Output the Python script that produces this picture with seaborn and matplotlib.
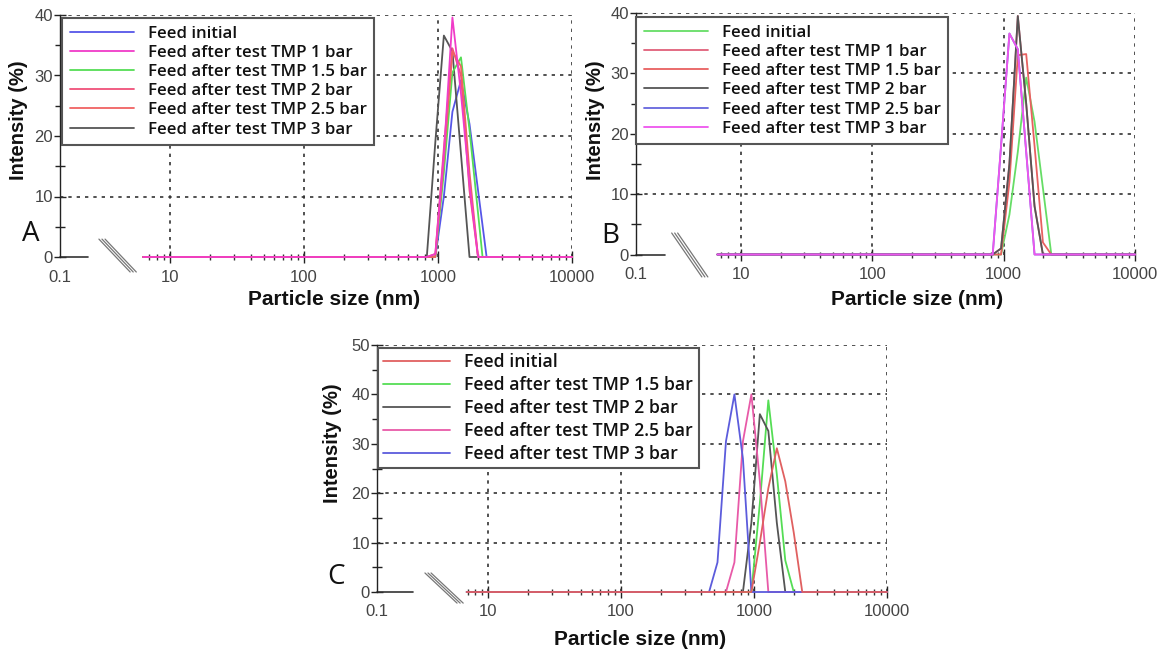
import matplotlib
matplotlib.use("Agg")
import matplotlib.pyplot as plt
import seaborn as sns
from matplotlib.ticker import FixedLocator, NullFormatter
from matplotlib.font_manager import FontProperties

# ---------------- data (particle size in nm, intensity in %) ----------------
LABELS_AB = ["Feed initial", "Feed after test TMP 1 bar", "Feed after test TMP 1.5 bar",
             "Feed after test TMP 2 bar", "Feed after test TMP 2.5 bar", "Feed after test TMP 3 bar"]
LABELS_C = ["Feed initial", "Feed after test TMP 1.5 bar", "Feed after test TMP 2 bar",
            "Feed after test TMP 2.5 bar", "Feed after test TMP 3 bar"]
X_TICKS = [10, 100, 1000, 10000]
X_TICK_LABELS = ["0.1", "10", "100", "1000", "10000"]

# Panel A
A_init_x = [6.3, 955, 1106, 1281, 1484, 1718, 1990, 2305, 10000]
A_init_y = [0, 0, 10, 24, 29.2, 22, 11, 0, 0]
A_tmp1_x = [6.3, 825, 955, 1106, 1281, 1484, 1718, 1990, 10000]
A_tmp1_y = [0, 0, 0.5, 17, 39.6, 27, 12, 0, 0]
A_tmp15_x = [6.3, 955, 1106, 1281, 1484, 1718, 2150, 10000]
A_tmp15_y = [0, 0, 14, 30.5, 33, 21, 0, 0]
A_tmp2_x = [6.3, 825, 955, 1106, 1281, 1484, 1718, 1990, 10000]
A_tmp2_y = [0, 0, 0.5, 18, 34.5, 30, 11, 0, 0]
A_tmp25_x = [6.3, 955, 1106, 1281, 1484, 1718, 1990, 10000]
A_tmp25_y = [0, 0, 16, 34, 31.5, 14, 0, 0]
A_tmp3_x = [6.3, 825, 955, 1106, 1281, 1484, 1718, 10000]
A_tmp3_y = [0, 0, 19, 36.6, 34, 17, 0, 0]

# Panel B
B_init_x = [6.6, 955, 1106, 1281, 1484, 1718, 1990, 2305, 10000]
B_init_y = [0, 0, 6.6, 17, 29.3, 22, 11, 0, 0]
B_tmp1_x = [6.6, 825, 955, 1106, 1281, 1484, 1718, 1990, 10000]
B_tmp1_y = [0, 0, 1, 15, 39.5, 25, 8, 0, 0]
B_tmp15_x = [6.6, 955, 1106, 1281, 1484, 1718, 1990, 2305, 10000]
B_tmp15_y = [0, 0, 12, 33, 33.2, 18, 2, 0, 0]
B_tmp2_x = [6.6, 825, 955, 1106, 1281, 1484, 1718, 1990, 10000]
B_tmp2_y = [0, 0, 1, 15, 39.5, 25, 8, 0, 0]
B_tmp25_x = [6.6, 825, 955, 1106, 1281, 1484, 1718, 10000]
B_tmp25_y = [0, 0, 18, 36.6, 34, 17, 0, 0]
B_tmp3_x = [6.6, 825, 955, 1106, 1281, 1484, 1718, 10000]
B_tmp3_y = [0, 0, 18, 36.6, 34, 17, 0, 0]

# Panel C
C_init_x = [6.9, 955, 1106, 1281, 1484, 1718, 1990, 2305, 10000]
C_init_y = [0, 0, 10, 21, 29.1, 22.4, 12, 0, 0]
C_tmp15_x = [6.9, 955, 1106, 1281, 1484, 1718, 1990, 10000]
C_tmp15_y = [0, 0, 18, 38.8, 23.8, 6.4, 0, 0]
C_tmp2_x = [6.9, 825, 955, 1106, 1281, 1484, 1718, 10000]
C_tmp2_y = [0, 0, 14, 36, 32.6, 14, 0, 0]
C_tmp25_x = [6.9, 615, 712, 825, 955, 1106, 1281, 10000]
C_tmp25_y = [0, 0, 6, 30.5, 40, 22.4, 0, 0]
C_tmp3_x = [6.9, 459, 531, 615, 712, 825, 955, 10000]
C_tmp3_y = [0, 0, 6, 30.5, 40, 27, 0, 0]

# ---------------- style ----------------
sns.set_theme(style="white")
plt.rcParams['font.family'] = ['Liberation Sans', 'DejaVu Sans']

W, H = 1167, 655
fig = plt.figure(figsize=(W / 100, H / 100), dpi=100)

GRID_KW = dict(color="#333333", linewidth=1.2, linestyle=(0, (2, 3)), zorder=1)


def px_rect(x0, x1, ytop, ybot):
    return [x0 / W, 1 - ybot / H, (x1 - x0) / W, (ybot - ytop) / H]


def panel(rect, series, ymax, left_lim, seg_frac, brk, leg_anchor, leg_size, leg_space,
          leg_pad, ylab_xy, xlab_xy, letter, letter_xy):
    ax = fig.add_axes(rect)
    ax.set_xscale("log")
    for lab, xs, ys, col, z in series:
        sns.lineplot(x=xs, y=ys, ax=ax, color=col, label=lab, linewidth=1.3,
                     estimator=None, sort=False, clip_on=False, zorder=z)
    ax.set_xlim(left_lim, 10000)
    ax.set_ylim(0, ymax)
    # grid
    for v in range(10, ymax + 1, 10):
        ax.axhline(v, **GRID_KW)
    for v in X_TICKS:
        ax.axvline(v, **GRID_KW)
    # spines
    for s in ["top", "right", "bottom"]:
        ax.spines[s].set_visible(False)
    ax.spines["left"].set_color("#222222")
    ax.spines["left"].set_linewidth(1.0)
    # x ticks
    ax.xaxis.set_major_locator(FixedLocator([left_lim] + X_TICKS))
    ax.set_xticklabels(X_TICK_LABELS)
    minors = [7, 8, 9] + [m * 10 ** d for d in (1, 2, 3) for m in range(2, 10)]
    ax.xaxis.set_minor_locator(FixedLocator(minors))
    ax.xaxis.set_minor_formatter(NullFormatter())
    ax.tick_params(axis="x", which="major", direction="inout", length=8, width=1,
                   color="#222222", labelcolor="#444444", labelsize=12, pad=5, bottom=True)
    ax.tick_params(axis="x", which="minor", direction="inout", length=5, width=1,
                   color="#333333", bottom=True)
    ax.xaxis.get_major_ticks()[0].tick1line.set_visible(False)
    # y ticks
    ax.yaxis.set_major_locator(FixedLocator(list(range(0, ymax + 1, 10))))
    ax.yaxis.set_minor_locator(FixedLocator(list(range(5, ymax, 10))))
    ax.tick_params(axis="y", which="major", direction="inout", length=8, width=1,
                   color="#222222", labelcolor="#444444", labelsize=12, pad=1, left=True)
    ax.tick_params(axis="y", which="minor", direction="inout", length=7, width=1,
                   color="#222222", left=True)
    # short axis stub + break marks
    ax.plot([0, seg_frac], [0, 0], transform=ax.transAxes, color="#333333",
            linewidth=1.2, clip_on=False, zorder=2)
    (bx0, by0), (bx1, by1), dx = brk
    for k in range(3):
        ax.plot([bx0 + k * dx, bx1 + k * dx], [by0, by1], transform=ax.transAxes,
                color="#777777", linewidth=0.9, clip_on=False)
    # labels
    ax.set_xlabel("Particle size (nm)", fontsize=15, fontweight="bold", color="#111111")
    ax.set_ylabel("Intensity (%)", fontsize=14.5, fontweight="bold", color="#111111")
    ax.xaxis.set_label_coords(*xlab_xy)
    ax.yaxis.set_label_coords(*ylab_xy)
    # legend
    leg = ax.legend(loc="upper left", bbox_to_anchor=leg_anchor, frameon=True,
                    fancybox=False, edgecolor="#555555", framealpha=1,
                    prop=FontProperties(family="Open Sans", weight="semibold", size=leg_size),
                    handlelength=3.8, handletextpad=0.8, labelspacing=leg_space,
                    borderpad=leg_pad, borderaxespad=0)
    leg.get_frame().set_linewidth(1.5)
    leg.set_zorder(10)
    for t in leg.get_texts():
        t.set_color("#111111")
    fig.text(letter_xy[0] / W, 1 - letter_xy[1] / H, letter, ha="center", va="center",
             fontsize=20, family="Open Sans", color="#111111")
    return ax


colors_A = ["#5656e8", "#f03cc8", "#55dd55", "#f0507a", "#f06262", "#555555"]
colors_B = ["#66dd66", "#e0607a", "#e86060", "#555555", "#6666dd", "#ee55ee"]
colors_C = ["#e06060", "#55dd55", "#555555", "#e85aa8", "#5c5cdc"]
zorder_A = [3, 3.6, 3.2, 3.3, 3.4, 3.1]
zorder_B = [3, 3.1, 3.2, 3.3, 3.4, 3.5]
zorder_C = [3.6, 3.1, 3.2, 3.3, 3.4]

series_A = list(zip(LABELS_AB,
                    [A_init_x, A_tmp1_x, A_tmp15_x, A_tmp2_x, A_tmp25_x, A_tmp3_x],
                    [A_init_y, A_tmp1_y, A_tmp15_y, A_tmp2_y, A_tmp25_y, A_tmp3_y],
                    colors_A, zorder_A))
series_B = list(zip(LABELS_AB,
                    [B_init_x, B_tmp1_x, B_tmp15_x, B_tmp2_x, B_tmp25_x, B_tmp3_x],
                    [B_init_y, B_tmp1_y, B_tmp15_y, B_tmp2_y, B_tmp25_y, B_tmp3_y],
                    colors_B, zorder_B))
series_C = list(zip(LABELS_C,
                    [C_init_x, C_tmp15_x, C_tmp2_x, C_tmp25_x, C_tmp3_x],
                    [C_init_y, C_tmp15_y, C_tmp2_y, C_tmp25_y, C_tmp3_y],
                    colors_C, zorder_C))

panel(px_rect(60, 572, 15, 257), series_A, 40, 1.51, 0.055,
      ((0.076, 0.074), (0.137, -0.062), 0.006), (0.004, 0.988), 12.2, 0.19, 0.45,
      (-0.0625, 0.566), (0.535, -0.136), "A", (31, 234))
panel(px_rect(636, 1135, 13, 254.5), series_B, 40, 1.585, 0.058,
      ((0.0715, 0.089), (0.132, -0.093), 0.006), (0.0, 0.983), 12.2, 0.19, 0.45,
      (-0.062, 0.557), (0.563, -0.147), "B", (610, 236))
panel(px_rect(377, 887, 345, 592), series_C, 50, 1.46, 0.07,
      ((0.094, 0.077), (0.157, -0.045), 0.006), (0.002, 0.988), 12.7, 0.28, 0.3,
      (-0.069, 0.603), (0.516, -0.154), "C", (336, 577))

fig.savefig("out.png", dpi=100)
